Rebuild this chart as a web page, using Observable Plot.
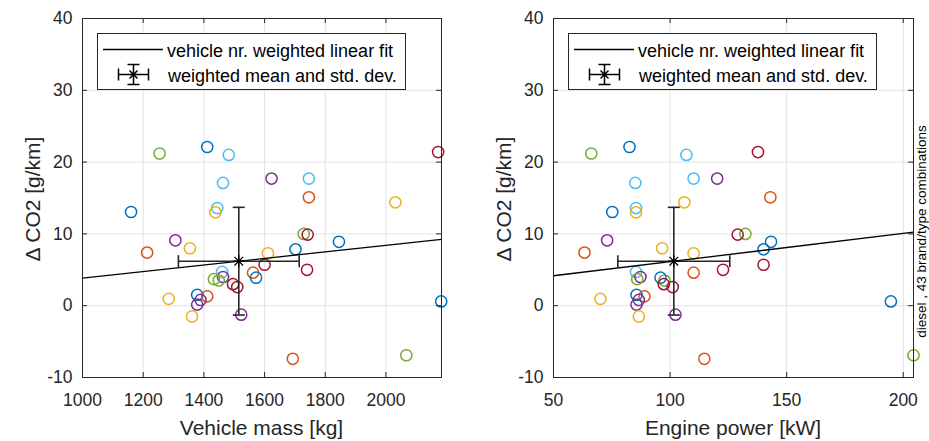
<!DOCTYPE html>
<html><head><meta charset="utf-8">
<script src="https://cdn.jsdelivr.net/npm/d3@7"></script>
<script src="https://cdn.jsdelivr.net/npm/@observablehq/plot@0.6"></script>
<style>
body{margin:0;background:#fff;}
#wrap{display:flex;width:929px;height:441px;overflow:hidden;}
svg{display:block}
</style></head><body><div id="wrap"></div>
<script>
// ---- data ----
const group = ["green","blue","lightblue","lightblue","purple","lightblue","red","orange","blue","lightblue",
  "yellow","yellow","purple","orange","yellow","green","red","blue","blue","yellow",
  "red","red","lightblue","purple","green","green","orange","blue","red","red",
  "blue","orange","purple","purple","yellow","yellow","purple","blue","orange","green"];
const mass = [1254,1411,1482,1463,1623,1746,2172,1746,1160,1444,
  1438,2031,1306,1213,1354,1729,1742,1845,1702,1611,
  1600,1740,1460,1463,1433,1449,1562,1572,1496,1510,
  1378,1411,1389,1378,1284,1361,1523,2182,1693,2067];
const power = [66.2,82.6,107.0,85.1,120.2,110.1,137.7,143.0,75.2,85.4,
  85.4,106.1,73.0,63.3,96.6,132.3,129.0,143.3,140.1,110.1,
  140.1,122.7,85.4,87.3,85.9,97.6,110.1,95.9,97.3,101.1,
  85.6,89.0,86.6,85.6,70.1,86.6,102.3,194.7,114.7,204.4];
const dco2 = [21.2,22.1,21.0,17.1,17.7,17.7,21.4,15.1,13.05,13.6,
  13.0,14.4,9.1,7.4,8.0,10.0,9.9,8.9,7.85,7.3,
  5.7,5.0,4.7,4.0,3.7,3.5,4.6,3.9,3.0,2.6,
  1.5,1.3,0.8,0.15,0.95,-1.5,-1.25,0.6,-7.4,-6.9];

const groupNames = ["blue","orange","yellow","purple","green","lightblue","red"];
const groupColors = ["#0072BD","#D95319","#EDB120","#7E2F8E","#77AC30","#4DBEEE","#A2142F"];

const massTicks = [1000,1200,1400,1600,1800,2000];
const powerTicks = [50,100,150,200];
const yTicks = [-10,0,10,20,30,40];
const massDomain = [1000, 2183];
const powerDomain = [50, 204.4];
const yDomain = [-10, 40];

// weighted linear fits (intercept, slope)
const massFit = [-0.715, 0.004565];
const powerFit = [2.203, 0.03934];
// weighted means and std devs [mean x, std x, mean y, std y]
const massStats = [1515, 199, 6.2, 7.5];
const powerStats = [101.6, 24, 6.2, 7.5];

const legendLabels = ["vehicle nr. weighted linear fit", "weighted mean and std. dev."];
const yLabel = "\u0394 CO2 [g/km]";
const caption = "diesel , 43 brand/type combinations";

// ---- drawing ----
const FONT = "'Liberation Sans', Arial, sans-serif";
const H = 441, MT = 18, MB = 64;
const colorOf = Object.fromEntries(groupNames.map((g, i) => [g, groupColors[i]]));
const hCap = {draw(c, size){const r = Math.sqrt(size/Math.PI); c.moveTo(-r,0); c.lineTo(r,0);}};
const vCap = {draw(c, size){const r = Math.sqrt(size/Math.PI); c.moveTo(0,-r); c.lineTo(0,r);}};
const star = {draw(c, size){const r = Math.sqrt(size/Math.PI); const d = r*0.72;
  c.moveTo(-r,0); c.lineTo(r,0); c.moveTo(0,-r); c.lineTo(0,r);
  c.moveTo(-d,-d); c.lineTo(d,d); c.moveTo(-d,d); c.lineTo(d,-d);}};

function panel({xs, xDomain, xTicks, width, marginLeft, marginRight, fit, stats, xLabel, withCaption}) {
  const pts = xs.map((x, i) => ({x, y: dco2[i], c: colorOf[group[i]]}));
  const fitPts = xDomain.map(x => ({x, y: fit[0] + fit[1]*x}));
  const [mx, sx, my, sy] = stats;
  const plotH = H - MT - MB, plotW = width - marginLeft - marginRight;
  const grid = "#e2e2e2", ink = "#262626";
  const svg = Plot.plot({
    width, height: H, marginTop: MT, marginBottom: MB, marginLeft, marginRight,
    style: {fontFamily: FONT, fontSize: "17.5px", color: ink, background: "white", overflow: "visible"},
    x: {domain: xDomain, ticks: xTicks, tickSize: 0, tickPadding: 16, label: null, tickFormat: d => String(d)},
    y: {domain: yDomain, ticks: yTicks, tickSize: 0, tickPadding: 10, label: null, tickFormat: d => String(d)},
    marks: [
      Plot.ruleX(xTicks, {stroke: grid, strokeWidth: 1}),
      Plot.ruleY(yTicks, {stroke: grid, strokeWidth: 1}),
      Plot.dot(pts, {x: "x", y: "y", stroke: d => d.c, r: 5.6, strokeWidth: 1.5, fill: "none"}),
      Plot.line(fitPts, {x: "x", y: "y", stroke: "#000", strokeWidth: 1.3}),
      Plot.ruleX([0], {x: () => mx, y1: () => my - sy, y2: () => my + sy, stroke: ink, strokeWidth: 1.6}),
      Plot.ruleY([0], {y: () => my, x1: () => mx - sx, x2: () => mx + sx, stroke: ink, strokeWidth: 1.6}),
      Plot.dot([my - sy, my + sy], {x: () => mx, y: d => d, symbol: hCap, r: 6, stroke: ink, strokeWidth: 1.6, fill: "none"}),
      Plot.dot([mx - sx, mx + sx], {x: d => d, y: () => my, symbol: vCap, r: 6, stroke: ink, strokeWidth: 1.6, fill: "none"}),
      Plot.dot([0], {x: () => mx, y: () => my, symbol: star, r: 6, stroke: "#000", strokeWidth: 1.3, fill: "none"}),
      Plot.frame({stroke: ink, strokeWidth: 1}),
      Plot.ruleX(xTicks, {stroke: ink, insetTop: plotH - 5}),
      Plot.ruleX(xTicks, {stroke: ink, insetBottom: plotH - 5}),
      Plot.ruleY(yTicks, {stroke: ink, insetRight: plotW - 5}),
      Plot.ruleY(yTicks, {stroke: ink, insetLeft: plotW - 5})
    ]
  });
  const s = d3.select(svg);
  // legend
  const bx = marginLeft + 15;
  const lg = s.append("g").attr("font-family", FONT).attr("font-size", "18px").attr("fill", "#000")
    .attr("text-anchor", "start");
  lg.append("rect").attr("x", bx + 0.5).attr("y", 33.5).attr("width", 308).attr("height", 56)
    .attr("fill", "white").attr("stroke", ink).attr("stroke-width", 1);
  lg.append("line").attr("x1", bx + 6).attr("x2", bx + 66).attr("y1", 49.5).attr("y2", 49.5)
    .attr("stroke", "#000").attr("stroke-width", 1.3);
  lg.append("text").attr("x", bx + 70).attr("y", 56.5).text(legendLabels[0]);
  const cx = bx + 36.5, cy = 74.5;
  const ep = lg.append("g").attr("stroke", "#000").attr("stroke-width", 1.5).attr("fill", "none");
  ep.append("path").attr("d",
    `M${cx-15},${cy}H${cx+15}M${cx-15},${cy-6}V${cy+6}M${cx+15},${cy-6}V${cy+6}` +
    `M${cx},${cy-10}V${cy+10}M${cx-6},${cy-10}H${cx+6}M${cx-6},${cy+10}H${cx+6}` +
    `M${cx-4},${cy-4}L${cx+4},${cy+4}M${cx-4},${cy+4}L${cx+4},${cy-4}`);
  lg.append("text").attr("x", bx + 71).attr("y", 81.5).text(legendLabels[1]);
  // axis labels
  const lab = s.append("g").attr("font-family", FONT).attr("font-size", "21px").attr("fill", ink).attr("text-anchor", "middle");
  lab.append("text").attr("x", marginLeft + plotW / 2).attr("y", 435).text(xLabel);
  lab.append("text").attr("transform", `translate(${marginLeft - 50},199) rotate(-90)`)
    .attr("dominant-baseline", "central").text(yLabel);
  if (withCaption) {
    s.append("text").attr("font-family", FONT).attr("font-size", "13.5px").attr("fill", "#000")
      .attr("text-anchor", "middle").attr("dominant-baseline", "central")
      .attr("transform", `translate(${marginLeft + plotW + 8.7},231.5) rotate(-90)`).text(caption);
  }
  return svg;
}

const wrap = document.getElementById("wrap");
wrap.appendChild(panel({xs: mass, xDomain: massDomain, xTicks: massTicks, width: 465, marginLeft: 82, marginRight: 24,
  fit: massFit, stats: massStats, xLabel: "Vehicle mass [kg]", withCaption: false}));
wrap.appendChild(panel({xs: power, xDomain: powerDomain, xTicks: powerTicks, width: 464, marginLeft: 88, marginRight: 16,
  fit: powerFit, stats: powerStats, xLabel: "Engine power [kW]", withCaption: true}));
</script></body></html>
